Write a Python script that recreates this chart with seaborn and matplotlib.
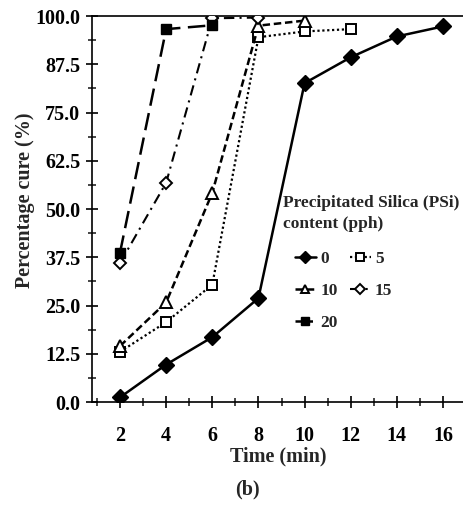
import numpy as np
import pandas as pd
import matplotlib
matplotlib.use("Agg")
import matplotlib.pyplot as plt
import seaborn as sns
from matplotlib.ticker import MultipleLocator

sns.set_theme(style="ticks")
plt.rcParams['font.family'] = ['Liberation Serif', 'DejaVu Serif']
plt.rcParams['font.weight'] = 'bold'

# data
t0 = [2, 4, 6, 8, 10, 12, 14, 16]
y0 = [1.2, 9.7, 16.8, 26.9, 82.6, 89.3, 94.7, 97.3]
t5 = [2, 4, 6, 8, 10, 12]
y5 = [13.0, 20.7, 30.4, 94.5, 96.0, 96.6]
t10 = [2, 4, 6, 8, 10]
y10 = [14.5, 25.8, 54.2, 97.5, 98.8]
t15 = [2, 4, 6, 8]
y15 = [36.0, 56.8, 99.4, 99.6]
t20 = [2, 4, 6]
y20 = [38.7, 96.6, 97.6]
labels = ["0", "5", "10", "15", "20"]
xticks = [2, 4, 6, 8, 10, 12, 14, 16]
yticks = [0.0, 12.5, 25.0, 37.5, 50.0, 62.5, 75.0, 87.5, 100.0]

series = [(t0, y0), (t5, y5), (t10, y10), (t15, y15), (t20, y20)]
frames = []
for lab, (t, y) in zip(labels, series):
    frames.append(pd.DataFrame({"time": t, "cure": y, "psi": lab}))
df = pd.concat(frames, ignore_index=True)

styles = {
    "0": dict(linestyle="-", lw=1.8, marker="D", ms=8, mfc="black", mec="black"),
    "5": dict(linestyle=(0, (1, 1.2)), lw=1.6, marker="s", ms=7, mfc="white", mec="black", mew=1.4),
    "10": dict(linestyle=(0, (3, 1.5)), lw=1.8, marker="^", ms=8, mfc="white", mec="black", mew=1.4),
    "15": dict(linestyle=(0, (5, 2.5, 1, 2.5)), lw=1.5, marker="D", ms=6, mfc="white", mec="black", mew=1.4),
    "20": dict(linestyle=(0, (7, 3)), lw=1.8, marker="s", ms=7, mfc="black", mec="black"),
}

fig = plt.figure(figsize=(4.64, 5.11), dpi=100)
ax = fig.add_axes([92/464, 1-402/511, 1-92/464, (402-16)/511])

handles = {}
for lab in labels:
    sub = df[df["psi"] == lab]
    st = styles[lab]
    sns.lineplot(data=sub, x="time", y="cure", ax=ax, color="black",
                 linestyle=st["linestyle"], linewidth=st["lw"], marker=st["marker"],
                 markersize=st["ms"], markerfacecolor=st["mfc"], markeredgecolor=st["mec"],
                 markeredgewidth=st.get("mew", 1.0), legend=False, zorder=3)
    handles[lab] = ax.lines[-1]

ax.set_xlim(0.786, 16.91)
ax.set_ylim(0, 100)
ax.set_xticks(xticks)
ax.set_xticklabels([str(v) for v in xticks])
ax.set_yticks(yticks)
ax.set_yticklabels([f"{v:.1f}" for v in yticks])
ax.xaxis.set_minor_locator(MultipleLocator(1))
ax.yaxis.set_minor_locator(MultipleLocator(6.25))
ax.tick_params(axis="both", which="major", direction="inout", length=9, width=1.2,
               labelsize=14.5, colors="black", pad=13)
ax.tick_params(axis="y", which="major", pad=4)
ax.tick_params(axis="both", which="minor", direction="inout", length=6, width=1.2)
for lbl in ax.get_xticklabels() + ax.get_yticklabels():
    lbl.set_fontweight("bold")
ax.spines["right"].set_visible(False)
for s in ["left", "bottom", "top"]:
    ax.spines[s].set_color("black")
    ax.spines[s].set_linewidth(1.2)

ax.set_xlabel("Time (min)", fontsize=14.5, fontweight="bold", labelpad=0)
ax.set_ylabel("Percentage cure (%)", fontsize=14.5, fontweight="bold")
ax.yaxis.set_label_coords(35/464, 1-200/511, transform=fig.transFigure)

fig.text(283/464, 1-195/511, "Precipitated Silica (PSi)\ncontent (pph)",
         ha="left", va="top", fontsize=12.5, fontweight="bold", linespacing=1.45)

order = ["0", "10", "20", "5", "15"]
leg = ax.legend([handles[k] for k in order], order, ncol=2, frameon=False,
                loc="upper left", bbox_to_anchor=(295/464, 1-251/511),
                bbox_transform=fig.transFigure, fontsize=12.5,
                handlelength=1.2, handletextpad=0.25, columnspacing=0.7,
                labelspacing=0.9, borderaxespad=0, borderpad=0, markerscale=0.8)
for txt in leg.get_texts():
    txt.set_fontweight("bold")

fig.text(247/464, 1-489/511, "(b)", ha="center", va="center", fontsize=14.5, fontweight="bold")

fig.savefig("out.png", dpi=100)
